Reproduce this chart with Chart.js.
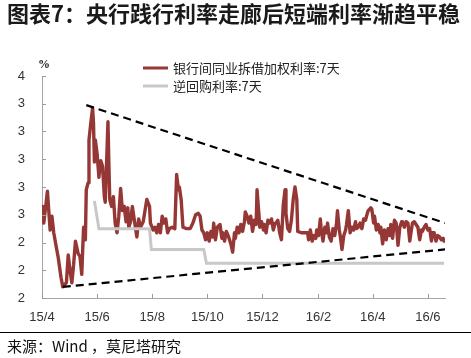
<!DOCTYPE html>
<html><head><meta charset="utf-8">
<script src="https://cdn.jsdelivr.net/npm/chart.js@4.4.0/dist/chart.umd.min.js"></script>
<style>html,body{margin:0;padding:0;background:#fff;}canvas{display:block;}</style>
</head><body>
<canvas id="c" width="471" height="358"></canvas>
<script>
const titleText = '图表7：央行践行利率走廊后短端利率渐趋平稳';
const sourceText = '来源：Wind ，莫尼塔研究';
const unitText = '%';
const seriesNames = ['银行间同业拆借加权利率:7天', '逆回购利率:7天'];
// x axis: days since 2015-04-01
const xTickDays = [0, 61, 122, 183, 244, 306, 366, 427];
const xTickLabels = ['15/4', '15/6', '15/8', '15/10', '15/12', '16/2', '16/4', '16/6'];
const yMin = 2.0, yMax = 3.6, yStep = 0.2;

const ibDays = [1,2,6,9,11,13,16,18,21,23,27,29,31,33,35,37,40,42,44,46,48,49,51,52,54,56,57,58,59,61,63,65,67,69,70,73,74,75,77,79,81,83,85,87,89,91,93,95,96,98,100,102,105,107,109,112,115,116,119,120,123,125,127,129,131,133,135,137,139,141,144,147,149,151,152,154,156,160,164,167,170,173,175,177,179,181,183,185,187,189,190,192,194,197,199,200,202,204,206,209,211,213,214,216,218,220,222,224,225,227,229,231,233,235,237,238,240,241,243,245,246,248,250,252,254,256,258,259,261,263,265,267,269,270,272,274,276,278,280,282,283,287,291,294,295,297,299,301,303,304,306,308,309,311,313,315,316,318,320,322,324,326,327,329,330,332,334,336,337,339,341,343,345,347,348,350,352,354,356,358,360,361,364,365,367,368,370,372,374,375,377,379,381,383,385,386,388,390,392,394,396,398,399,401,403,405,407,409,410,412,414,416,418,420,421,423,425,427,429,431,432,434,436,438,440,442,444,445];
const ibRates = [2.66,2.54,2.77,2.49,2.59,2.47,2.36,2.29,2.15,2.08,2.11,2.31,2.20,2.11,2.24,2.41,2.32,2.30,2.17,2.51,2.42,2.78,2.83,3.14,3.26,3.37,3.26,2.98,3.14,3.04,2.87,2.99,2.95,2.73,2.69,3.27,2.97,2.71,2.66,2.73,2.54,2.47,2.59,2.79,2.63,2.66,2.55,2.65,2.51,2.55,2.66,2.57,2.44,2.57,2.51,2.55,2.67,2.71,2.66,2.54,2.49,2.51,2.47,2.53,2.47,2.59,2.54,2.57,2.47,2.50,2.51,2.50,2.89,2.78,2.80,2.71,2.51,2.50,2.50,2.54,2.60,2.61,2.59,2.49,2.47,2.42,2.47,2.41,2.48,2.44,2.54,2.42,2.51,2.53,2.43,2.47,2.41,2.48,2.45,2.39,2.33,2.47,2.43,2.51,2.47,2.53,2.48,2.55,2.62,2.59,2.54,2.59,2.48,2.56,2.53,2.78,2.61,2.51,2.55,2.49,2.53,2.47,2.56,2.54,2.57,2.49,2.54,2.54,2.56,2.47,2.42,2.67,2.78,2.61,2.50,2.48,2.56,2.71,2.80,2.71,2.48,2.47,2.47,2.47,2.42,2.49,2.41,2.45,2.43,2.49,2.45,2.57,2.49,2.41,2.51,2.47,2.54,2.44,2.41,2.50,2.45,2.54,2.63,2.49,2.45,2.35,2.45,2.49,2.53,2.63,2.47,2.51,2.49,2.55,2.50,2.51,2.54,2.50,2.57,2.56,2.61,2.63,2.65,2.64,2.54,2.59,2.49,2.53,2.47,2.51,2.39,2.49,2.42,2.50,2.45,2.53,2.43,2.56,2.54,2.38,2.51,2.55,2.55,2.51,2.55,2.54,2.41,2.50,2.54,2.55,2.53,2.51,2.42,2.49,2.48,2.51,2.53,2.49,2.50,2.41,2.47,2.47,2.41,2.45,2.44,2.42,2.43,2.41];

const rrDays = [58, 63, 119, 121, 179, 182, 445];
const rrRates = [2.70, 2.50, 2.50, 2.35, 2.35, 2.25, 2.25];

const upperDays = [49, 446];
const upperRates = [3.39, 2.54];
const lowerDays = [23, 446];
const lowerRates = [2.08, 2.35];

const RED = '#953735';
const GRAY = '#C8C8C8';

const pts = (xs, ys) => xs.map((x, i) => ({x: x, y: ys[i]}));

const decor = {
  id: 'decor',
  afterDraw(chart) {
    const ctx = chart.ctx;
    const ca = chart.chartArea;
    const xs = chart.scales.x, ys = chart.scales.y;
    ctx.save();
    ctx.strokeStyle = '#999';
    ctx.lineWidth = 1;
    ys.ticks.forEach(t => {
      const y = Math.round(ys.getPixelForValue(t.value)) + 0.5;
      ctx.beginPath(); ctx.moveTo(ca.left, y); ctx.lineTo(ca.left + 4, y); ctx.stroke();
    });
    xs.ticks.forEach(t => {
      const x = Math.round(xs.getPixelForValue(t.value)) + 0.5;
      ctx.beginPath(); ctx.moveTo(x, ca.bottom); ctx.lineTo(x, ca.bottom - 4); ctx.stroke();
    });
    ctx.fillStyle = '#1a1a1a';
    ctx.font = 'bold 22px "Noto Sans CJK SC"';
    ctx.textBaseline = 'middle';
    ctx.textAlign = 'left';
    ctx.fillText(titleText, 7, 14);
    ctx.font = 'bold 12px "Liberation Serif"';
    ctx.fillText(unitText, 38, 65);
    ctx.strokeStyle = '#000';
    ctx.beginPath(); ctx.moveTo(0, 332.5); ctx.lineTo(471, 332.5); ctx.stroke();
    ctx.font = '15px "Noto Sans CJK SC"';
    ctx.fillStyle = '#111';
    ctx.fillText(sourceText, 7, 346);
    const items = [[RED, 68, seriesNames[0]], [GRAY, 86, seriesNames[1]]];
    ctx.font = '13px "Noto Sans CJK SC"';
    items.forEach(([c, y, txt]) => {
      ctx.strokeStyle = c; ctx.lineWidth = 3;
      ctx.beginPath(); ctx.moveTo(143, y); ctx.lineTo(168, y); ctx.stroke();
      ctx.fillStyle = '#222';
      ctx.fillText(txt, 173, y);
    });
    ctx.restore();
  }
};

new Chart(document.getElementById('c'), {
  type: 'line',
  data: {
    datasets: [
      {label: 'upper', data: pts(upperDays, upperRates), borderColor: '#000', borderWidth: 2.2, borderDash: [8, 5], pointRadius: 0, order: 0},
      {label: 'lower', data: pts(lowerDays, lowerRates), borderColor: '#000', borderWidth: 2.2, borderDash: [8, 5], pointRadius: 0, order: 0},
      {label: seriesNames[1], data: pts(rrDays, rrRates), borderColor: GRAY, borderWidth: 3, pointRadius: 0, order: 1},
      {label: seriesNames[0], data: pts(ibDays, ibRates), borderColor: RED, borderWidth: 3.4, pointRadius: 0, order: 2, borderJoinStyle: 'round', borderCapStyle: 'round'}
    ]
  },
  options: {
    responsive: false,
    animation: false,
    devicePixelRatio: 1,
    layout: {padding: {top: 76, right: 26, left: 0, bottom: 0}},
    plugins: {legend: {display: false}, tooltip: {enabled: false}},
    scales: {
      x: {
        type: 'linear', min: 0, max: 446,
        afterBuildTicks: s => { s.ticks = xTickDays.map(v => ({value: v})); },
        afterFit: s => { s.height = 60; },
        grid: {display: false, drawTicks: false},
        border: {display: true, color: '#a6a6a6', width: 1},
        ticks: {
          padding: 12, color: '#333', font: {family: '"Liberation Sans"', size: 13},
          maxRotation: 0, autoSkip: false,
          callback: (v, i) => xTickLabels[i]
        }
      },
      y: {
        min: yMin, max: yMax,
        afterFit: s => { s.width = 42; },
        grid: {display: false, drawTicks: false},
        border: {display: true, color: '#a6a6a6', width: 1},
        ticks: {
          stepSize: yStep, padding: 17, color: '#333',
          font: {family: '"Liberation Sans"', size: 13},
          callback: v => String(Math.round(v))
        }
      }
    }
  },
  plugins: [decor]
});
</script>
</body></html>
